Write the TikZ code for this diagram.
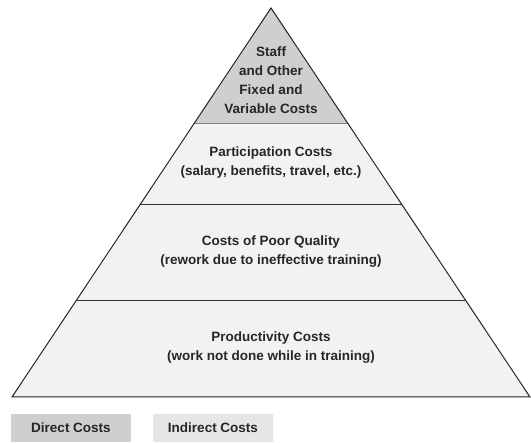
\documentclass[tikz,border=0pt]{standalone}
\usepackage{fontspec}
\setmainfont{Liberation Sans}
\usetikzlibrary{calc}

\definecolor{tipgray}{HTML}{CFCFCF}
\definecolor{bandgray}{HTML}{F1F2F4}
\definecolor{indirectgray}{HTML}{E6E6E6}

\tikzset{
  layer/.style={font=\bfseries\fontsize{13.5}{19}\selectfont, align=center, text=black!85},
  key/.style={minimum width=120pt, minimum height=28pt, inner sep=0pt,
    font=\bfseries\fontsize{13.5}{16}\selectfont, text=black!85},
}

\begin{document}
\begin{tikzpicture}[x=1pt, y=1pt]
  \useasboundingbox (0,0) rectangle (531,443);

  % Pyramid corners
  \coordinate (apex) at (271,435);
  \coordinate (bl) at (12,46);
  \coordinate (br) at (530,46);
  % Where the layer lines meet the sides
  \coordinate (l1) at ($(apex)!0.2956!(bl)$);
  \coordinate (r1) at ($(apex)!0.2956!(br)$);
  \coordinate (l2) at ($(apex)!0.5039!(bl)$);
  \coordinate (r2) at ($(apex)!0.5039!(br)$);
  \coordinate (l3) at ($(apex)!0.7506!(bl)$);
  \coordinate (r3) at ($(apex)!0.7506!(br)$);

  % Fills
  \fill[bandgray] (bl) -- (br) -- (r1) -- (l1) -- cycle;
  \fill[tipgray] (apex) -- (l1) -- (r1) -- cycle;

  % Layer lines
  \draw[gray, line width=0.8pt] (l1) -- (r1);
  \draw[black!80, line width=0.8pt] (l2) -- (r2);
  \draw[black!80, line width=0.8pt] (l3) -- (r3);

  % Outline
  \draw[black!85, line width=1pt] (apex) -- (bl) -- (br) -- cycle;

  % Layer labels
  \node[layer] (staff) at (271,363) {Staff\\and Other\\Fixed and\\Variable Costs};
  \node[layer] (participation) at (271,280) {Participation Costs\\(salary, benefits, travel, etc.)};
  \node[layer] (quality) at (271,191) {Costs of Poor Quality\\(rework due to ineffective training)};
  \node[layer] (productivity) at (271,95) {Productivity Costs\\(work not done while in training)};

  % Legend
  \node[key, fill=tipgray] (direct) at (71,15) {Direct Costs};
  \node[key, fill=indirectgray] (indirect) at (213,15) {Indirect Costs};
\end{tikzpicture}
\end{document}
